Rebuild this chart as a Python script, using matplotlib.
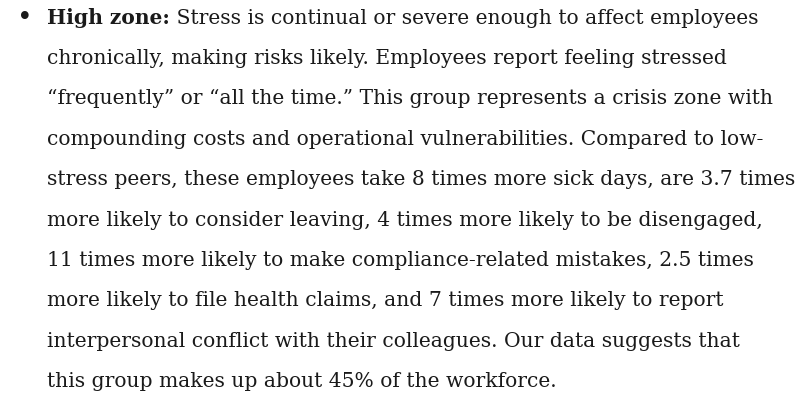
import matplotlib
matplotlib.use("Agg")
import matplotlib.pyplot as plt

bold_lead = "High zone:"
lines = [
    " Stress is continual or severe enough to affect employees",
    "chronically, making risks likely. Employees report feeling stressed",
    "\u201cfrequently\u201d or \u201call the time.\u201d This group represents a crisis zone with",
    "compounding costs and operational vulnerabilities. Compared to low-",
    "stress peers, these employees take 8 times more sick days, are 3.7 times",
    "more likely to consider leaving, 4 times more likely to be disengaged,",
    "11 times more likely to make compliance-related mistakes, 2.5 times",
    "more likely to file health claims, and 7 times more likely to report",
    "interpersonal conflict with their colleagues. Our data suggests that",
    "this group makes up about 45% of the workforce.",
]

W, H = 812, 404
fig = plt.figure(figsize=(W/100, H/100), dpi=100)
fig.patch.set_facecolor("white")
fs = 14.6
fam = "DejaVu Serif"
col = "#1a1a1a"
x0 = 47
y0 = 18
dy = 40.4

def px(x, y):
    return x / W, 1 - y / H

fig.text(*px(17, y0), "\u2022", fontsize=fs*1.3, family="DejaVu Sans", color=col, va="center")
b = fig.text(*px(x0, y0), bold_lead, fontsize=fs, family=fam, weight="bold", color=col, va="center")
r = fig.canvas.get_renderer()
bb = b.get_window_extent(r)
fig.text(bb.x1 / W, 1 - y0 / H, lines[0], fontsize=fs, family=fam, color=col, va="center")
for i, ln in enumerate(lines[1:], start=1):
    fig.text(*px(x0, y0 + i * dy), ln, fontsize=fs, family=fam, color=col, va="center")

fig.savefig("out.png", dpi=100, facecolor="white")
